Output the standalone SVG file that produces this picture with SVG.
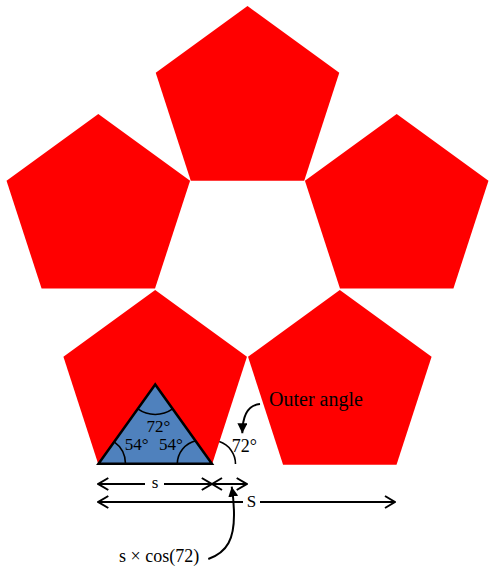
<svg xmlns="http://www.w3.org/2000/svg" xmlns:xlink="http://www.w3.org/1999/xlink" width="492" height="572" viewBox="0 0 492 572">
  <style>
    .pent { fill: #FF0000; stroke: none; }
    .tri { fill: #4F81BD; stroke: #000; stroke-width: 2.5; stroke-linejoin: miter; }
    .arc { fill: none; stroke: #000; stroke-width: 1.6; }
    .dim { fill: none; stroke: #000; stroke-width: 2; }
    .curve { fill: none; stroke: #000; stroke-width: 2; }
    text { font-family: "Liberation Serif", "Times New Roman", serif; fill: #000; }
  </style>
  <defs>
    <polygon id="pent" points="0,-96.5 91.78,-29.82 56.72,78.07 -56.72,78.07 -91.78,-29.82"/>
    <marker id="chev" viewBox="0 0 12 14" refX="11" refY="7" markerWidth="12" markerHeight="14" markerUnits="userSpaceOnUse" orient="auto-start-reverse">
      <path d="M1,1 L11,7 L1,13" fill="none" stroke="#000" stroke-width="2"/>
    </marker>
    <marker id="head" viewBox="0 0 10 10" refX="10" refY="5" markerWidth="10" markerHeight="10" markerUnits="userSpaceOnUse" orient="auto">
      <path d="M0,0 L10,5 L0,10 z" fill="#000"/>
    </marker>
  </defs>

  <g id="pentagon-top"><use xlink:href="#pent" href="#pent" class="pent" x="247.5" y="102.6"/></g>
  <g id="pentagon-left"><use xlink:href="#pent" href="#pent" class="pent" x="98.3" y="210.5"/></g>
  <g id="pentagon-right"><use xlink:href="#pent" href="#pent" class="pent" x="396.7" y="210.5"/></g>
  <g id="pentagon-bottom-left"><use xlink:href="#pent" href="#pent" class="pent" x="155.2" y="386.6"/></g>
  <g id="pentagon-bottom-right"><use xlink:href="#pent" href="#pent" class="pent" x="339.8" y="386.6"/></g>

  <g id="triangle">
    <polygon class="tri" points="155.2,384.5 98.5,463.8 211.9,463.8"/>
    <path class="arc" d="M137.8,408.9 A30,30 0 0 0 172.6,408.9"/>
    <path class="arc" d="M125.5,463.8 A27,27 0 0 0 114.2,441.8"/>
    <path class="arc" d="M177.3,463.8 A24,24 0 0 1 196,440.7"/>
    <text x="158.3" y="431.7" font-size="17" text-anchor="middle">72°</text>
    <text x="136.7" y="450" font-size="17" text-anchor="middle">54°</text>
    <text x="170.8" y="450" font-size="17" text-anchor="middle">54°</text>
  </g>

  <g id="outer-angle">
    <path class="arc" d="M235.5,464 A23.5,23.5 0 0 0 219.3,441.6"/>
    <text x="231.7" y="451.7" font-size="18">72°</text>
    <text x="269" y="405.7" font-size="20">Outer angle</text>
  </g>

  <g id="dimension-labels">
    <text x="155" y="487.5" font-size="17" text-anchor="middle">s</text>
    <text x="251.5" y="507" font-size="17" text-anchor="middle">S</text>
    <text x="119" y="561.7" font-size="18">s × cos(72)</text>
  </g>

  <g id="connectors">
    <path class="dim" d="M98.3,484 H145 M164,484 H211.8" marker-start="url(#chev)" marker-end="url(#chev)"/>
    <path class="dim" d="M212,484 H246.7" marker-start="url(#chev)" marker-end="url(#chev)"/>
    <path class="dim" d="M98.3,502 H243 M260,502 H395" marker-start="url(#chev)" marker-end="url(#chev)"/>
    <path class="curve" d="M260,404 C249,405 242.5,413 242.3,433.3" marker-end="url(#head)"/>
    <path class="curve" d="M208.3,559 C228,552 234,538 234,515 C234,505 233,495 231.7,486.7" marker-end="url(#head)"/>
  </g>
</svg>
